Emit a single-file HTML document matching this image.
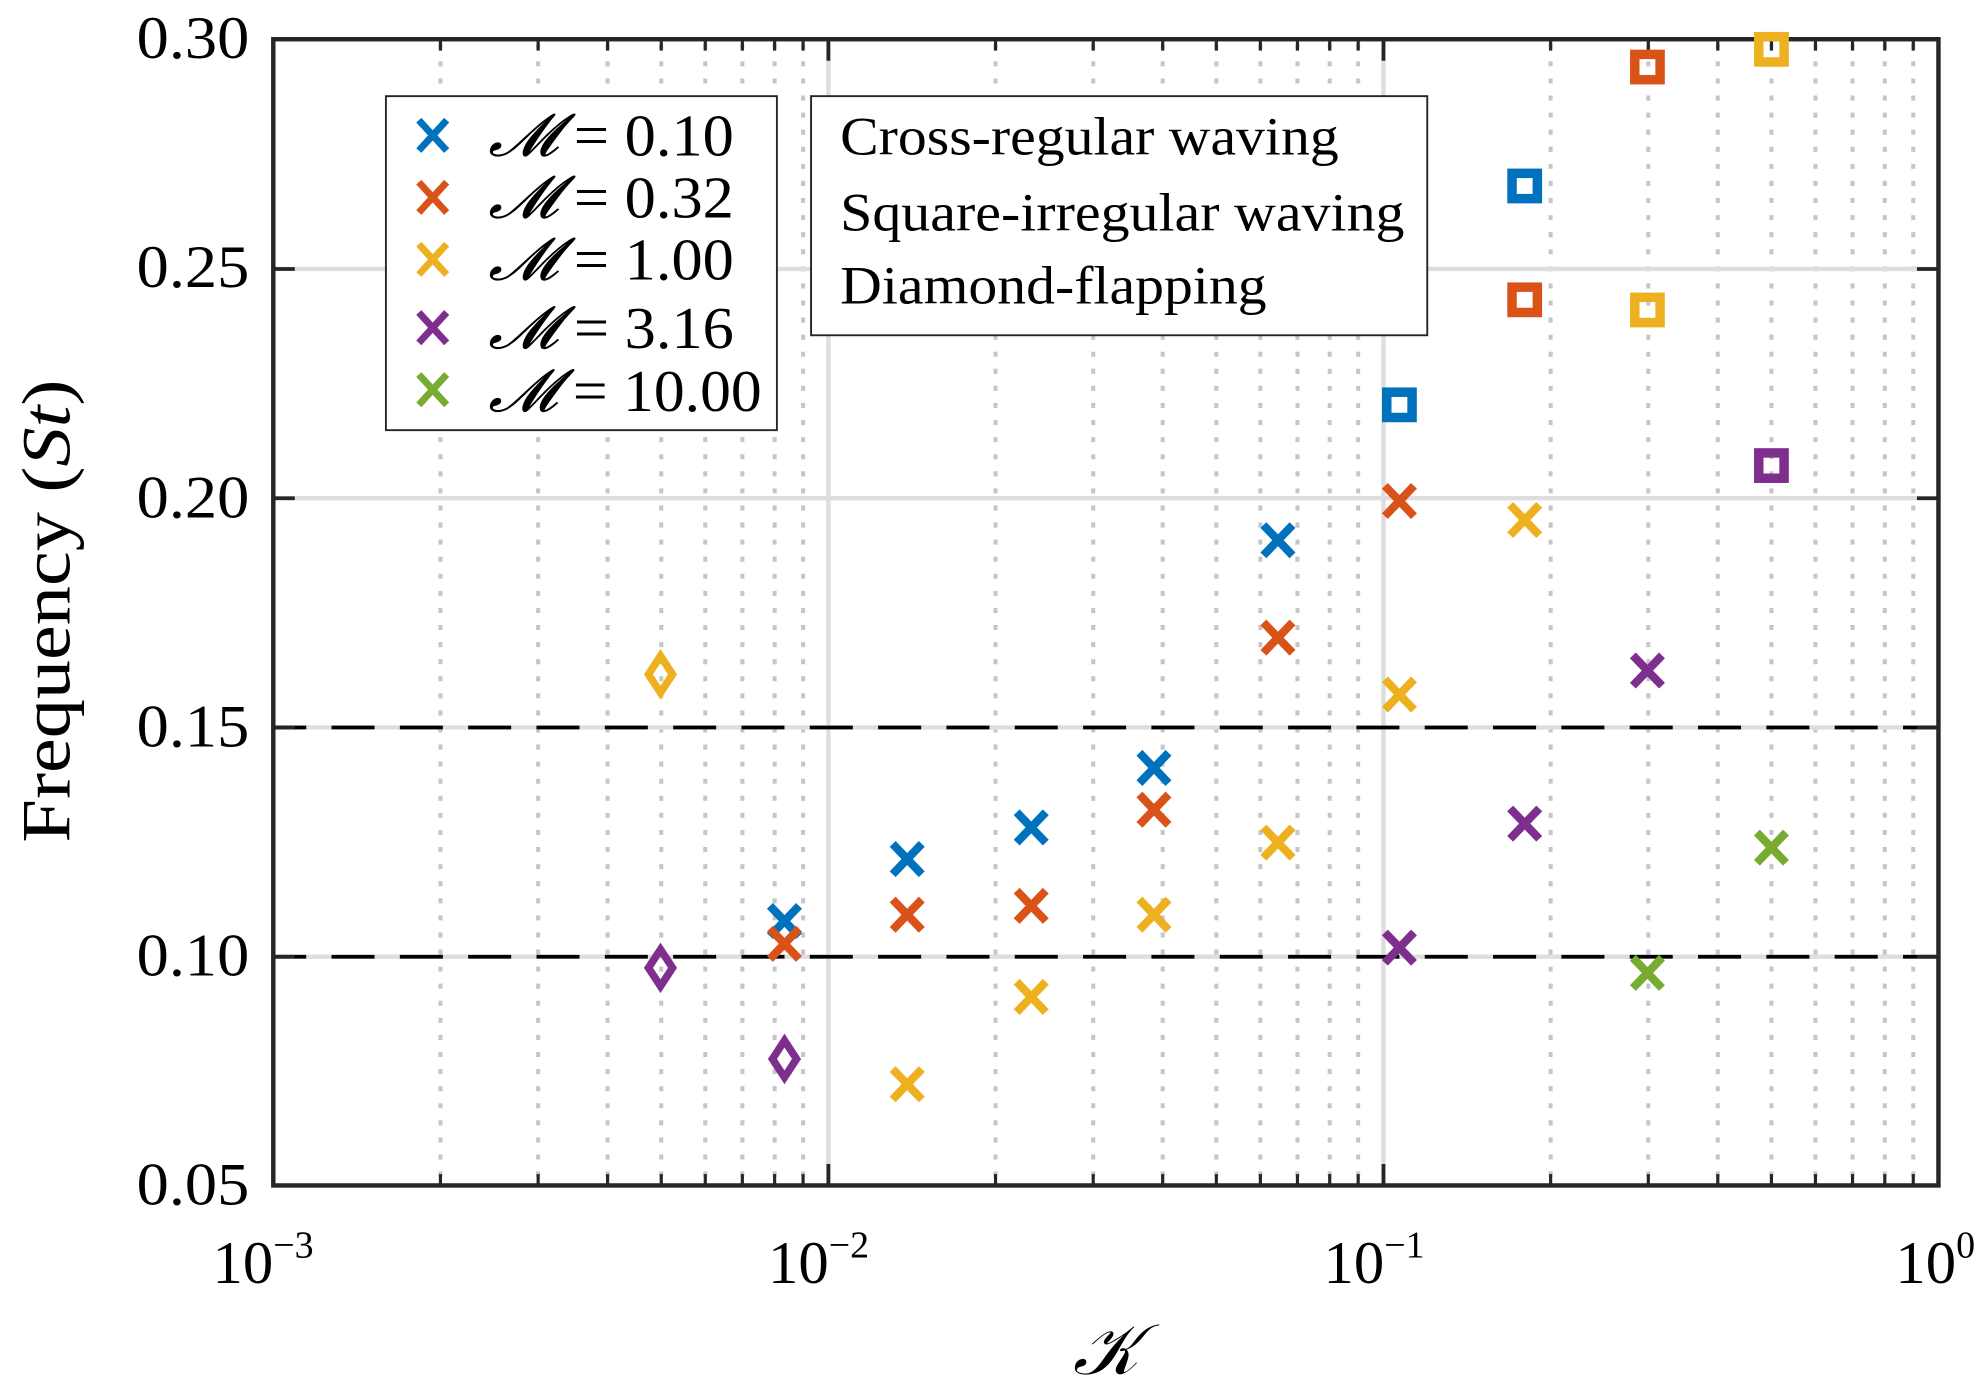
<!DOCTYPE html>
<html><head><meta charset="utf-8"><style>html,body{margin:0;padding:0;background:#fff}svg{display:block}</style></head>
<body>
<svg width="1984" height="1398" viewBox="0 0 1568 1105" preserveAspectRatio="none" xmlns="http://www.w3.org/2000/svg" font-family="'Liberation Serif', serif">
<rect width="1568" height="1105" fill="#fff"/>
<g id="grid">
<g stroke="#c6c6c6" stroke-width="3.2" stroke-dasharray="4 9.5">
<line x1="348.1" y1="35" x2="348.1" y2="935"/><line x1="425.3" y1="35" x2="425.3" y2="935"/><line x1="480.2" y1="35" x2="480.2" y2="935"/><line x1="522.6" y1="35" x2="522.6" y2="935"/><line x1="557.4" y1="35" x2="557.4" y2="935"/><line x1="586.7" y1="35" x2="586.7" y2="935"/><line x1="612.2" y1="35" x2="612.2" y2="935"/><line x1="634.7" y1="35" x2="634.7" y2="935"/>
<line x1="786.8" y1="35" x2="786.8" y2="935"/><line x1="864.0" y1="35" x2="864.0" y2="935"/><line x1="918.9" y1="35" x2="918.9" y2="935"/><line x1="961.3" y1="35" x2="961.3" y2="935"/><line x1="996.1" y1="35" x2="996.1" y2="935"/><line x1="1025.4" y1="35" x2="1025.4" y2="935"/><line x1="1050.9" y1="35" x2="1050.9" y2="935"/><line x1="1073.4" y1="35" x2="1073.4" y2="935"/>
<line x1="1225.5" y1="35" x2="1225.5" y2="935"/><line x1="1302.7" y1="35" x2="1302.7" y2="935"/><line x1="1357.6" y1="35" x2="1357.6" y2="935"/><line x1="1400.0" y1="35" x2="1400.0" y2="935"/><line x1="1434.8" y1="35" x2="1434.8" y2="935"/><line x1="1464.1" y1="35" x2="1464.1" y2="935"/><line x1="1489.6" y1="35" x2="1489.6" y2="935"/><line x1="1512.1" y1="35" x2="1512.1" y2="935"/>
</g>
<g stroke="#dedede" stroke-width="3.5">
<line x1="654.7" y1="31" x2="654.7" y2="937"/><line x1="1093.4" y1="31" x2="1093.4" y2="937"/>
<line x1="216" y1="756.2" x2="1532" y2="756.2"/><line x1="216" y1="575" x2="1532" y2="575"/><line x1="216" y1="393.8" x2="1532" y2="393.8"/><line x1="216" y1="212.6" x2="1532" y2="212.6"/>
</g>
<g stroke="#000" stroke-width="3" stroke-dasharray="34 20">
<line x1="216" y1="756.2" x2="1532" y2="756.2" stroke-dashoffset="8"/><line x1="216" y1="575" x2="1532" y2="575" stroke-dashoffset="8"/>
</g>
</g>
<g stroke="#262626" stroke-width="3">
<line x1="654.7" y1="937" x2="654.7" y2="920"/><line x1="1093.4" y1="937" x2="1093.4" y2="920"/>
<line x1="654.7" y1="31" x2="654.7" y2="48"/><line x1="1093.4" y1="31" x2="1093.4" y2="48"/>
<g stroke-width="2.5">
<path d="M348.1 937v-9M425.3 937v-9M480.2 937v-9M522.6 937v-9M557.4 937v-9M586.7 937v-9M612.2 937v-9M634.7 937v-9M786.8 937v-9M864 937v-9M918.9 937v-9M961.3 937v-9M996.1 937v-9M1025.4 937v-9M1050.9 937v-9M1073.4 937v-9M1225.5 937v-9M1302.7 937v-9M1357.6 937v-9M1400 937v-9M1434.8 937v-9M1464.1 937v-9M1489.6 937v-9M1512.1 937v-9"/>
<path d="M348.1 31v9M425.3 31v9M480.2 31v9M522.6 31v9M557.4 31v9M586.7 31v9M612.2 31v9M634.7 31v9M786.8 31v9M864 31v9M918.9 31v9M961.3 31v9M996.1 31v9M1025.4 31v9M1050.9 31v9M1073.4 31v9M1225.5 31v9M1302.7 31v9M1357.6 31v9M1400 31v9M1434.8 31v9M1464.1 31v9M1489.6 31v9M1512.1 31v9"/>
</g>
<path d="M216 756.2h17M216 575h17M216 393.8h17M216 212.6h17M1532 756.2h-17M1532 575h-17M1532 393.8h-17M1532 212.6h-17"/>
</g>
<rect x="216" y="31" width="1316" height="906" fill="none" stroke="#262626" stroke-width="3.5"/>
<defs>
<g id="x"><path d="M-11.5 -12L11.5 12M11.5 -12L-11.5 12" stroke-width="6.5" fill="none"/></g>
<g id="s"><rect x="-10" y="-10" width="20" height="20" stroke-width="7.5" fill="none"/></g>
<g id="d"><path d="M0 -14.5L9.5 0L0 14.5L-9.5 0Z" stroke-width="6" fill="none"/></g>
</defs>
<g stroke="#0072BD">
<use href="#x" x="620" y="728"/><use href="#x" x="717" y="679"/><use href="#x" x="815" y="654"/><use href="#x" x="912" y="607"/><use href="#x" x="1010" y="427"/>
<use href="#s" x="1106" y="320"/><use href="#s" x="1205" y="147"/>
</g>
<g stroke="#D95319">
<use href="#x" x="620" y="746"/><use href="#x" x="717" y="723"/><use href="#x" x="815" y="716"/><use href="#x" x="912" y="640"/><use href="#x" x="1010" y="504"/><use href="#x" x="1106" y="396"/>
<use href="#s" x="1205" y="237"/><use href="#s" x="1302" y="53"/>
</g>
<g stroke="#EDB120">
<use href="#x" x="717" y="857"/><use href="#x" x="815" y="788"/><use href="#x" x="912" y="723"/><use href="#x" x="1010" y="666"/><use href="#x" x="1106" y="549"/><use href="#x" x="1205" y="411"/>
<use href="#s" x="1302" y="245"/><use href="#s" x="1400" y="39"/><use href="#d" x="522" y="533"/>
</g>
<g stroke="#7E2F8E">
<use href="#x" x="1106" y="749"/><use href="#x" x="1205" y="651"/><use href="#x" x="1302" y="530"/>
<use href="#s" x="1400" y="368"/><use href="#d" x="522" y="765"/><use href="#d" x="620" y="837"/>
</g>
<g stroke="#77AC30">
<use href="#x" x="1302" y="769"/><use href="#x" x="1400" y="670"/>
</g>
<g font-size="48" fill="#000" lengthAdjust="spacingAndGlyphs">
<text x="108" y="46" textLength="89" lengthAdjust="spacingAndGlyphs">0.30</text>
<text x="108" y="227" textLength="89" lengthAdjust="spacingAndGlyphs">0.25</text>
<text x="108" y="409" textLength="89" lengthAdjust="spacingAndGlyphs">0.20</text>
<text x="108" y="590" textLength="89" lengthAdjust="spacingAndGlyphs">0.15</text>
<text x="108" y="771" textLength="89" lengthAdjust="spacingAndGlyphs">0.10</text>
<text x="108" y="952" textLength="89" lengthAdjust="spacingAndGlyphs">0.05</text>
</g>
<g font-size="48" fill="#000">
<text x="168" y="1014">10<tspan font-size="30" dy="-20">−3</tspan></text>
<text x="607" y="1014">10<tspan font-size="30" dy="-20">−2</tspan></text>
<text x="1046" y="1014">10<tspan font-size="30" dy="-20">−1</tspan></text>
<text x="1498" y="1014">10<tspan font-size="30" dy="-20">0</tspan></text>
</g>
<text x="848" y="1086" font-size="56" font-style="italic" fill="#000">𝒦</text>
<text transform="translate(55,483) rotate(-90)" font-size="54" text-anchor="middle" textLength="366" lengthAdjust="spacingAndGlyphs" fill="#000">Frequency (<tspan font-style="italic">St</tspan>)</text>
<rect x="305" y="76" width="309" height="264" fill="#fff" stroke="#262626" stroke-width="1.5"/>
<g stroke-width="5.5">
<path d="M331 95l22 24M353 95l-22 24" stroke="#0072BD"/>
<path d="M331 144l22 24M353 144l-22 24" stroke="#D95319"/>
<path d="M331 193l22 24M353 193l-22 24" stroke="#EDB120"/>
<path d="M331 247l22 24M353 247l-22 24" stroke="#7E2F8E"/>
<path d="M331 296l22 24M353 296l-22 24" stroke="#77AC30"/>
</g>
<g font-size="47" fill="#000">
<text x="386" y="123" textLength="194" lengthAdjust="spacingAndGlyphs"><tspan font-style="italic">𝓜</tspan> = 0.10</text>
<text x="386" y="172" textLength="194" lengthAdjust="spacingAndGlyphs"><tspan font-style="italic">𝓜</tspan> = 0.32</text>
<text x="386" y="221" textLength="194" lengthAdjust="spacingAndGlyphs"><tspan font-style="italic">𝓜</tspan> = 1.00</text>
<text x="386" y="275" textLength="194" lengthAdjust="spacingAndGlyphs"><tspan font-style="italic">𝓜</tspan> = 3.16</text>
<text x="386" y="325" textLength="216" lengthAdjust="spacingAndGlyphs"><tspan font-style="italic">𝓜</tspan> = 10.00</text>
</g>
<rect x="641" y="76" width="487" height="189" fill="#fff" stroke="#262626" stroke-width="1.5"/>
<g font-size="43" fill="#000">
<text x="664" y="122" textLength="394" lengthAdjust="spacingAndGlyphs">Cross-regular waving</text>
<text x="664" y="182" textLength="446" lengthAdjust="spacingAndGlyphs">Square-irregular waving</text>
<text x="664" y="240" textLength="337" lengthAdjust="spacingAndGlyphs">Diamond-flapping</text>
</g>
</svg>
</body></html>
